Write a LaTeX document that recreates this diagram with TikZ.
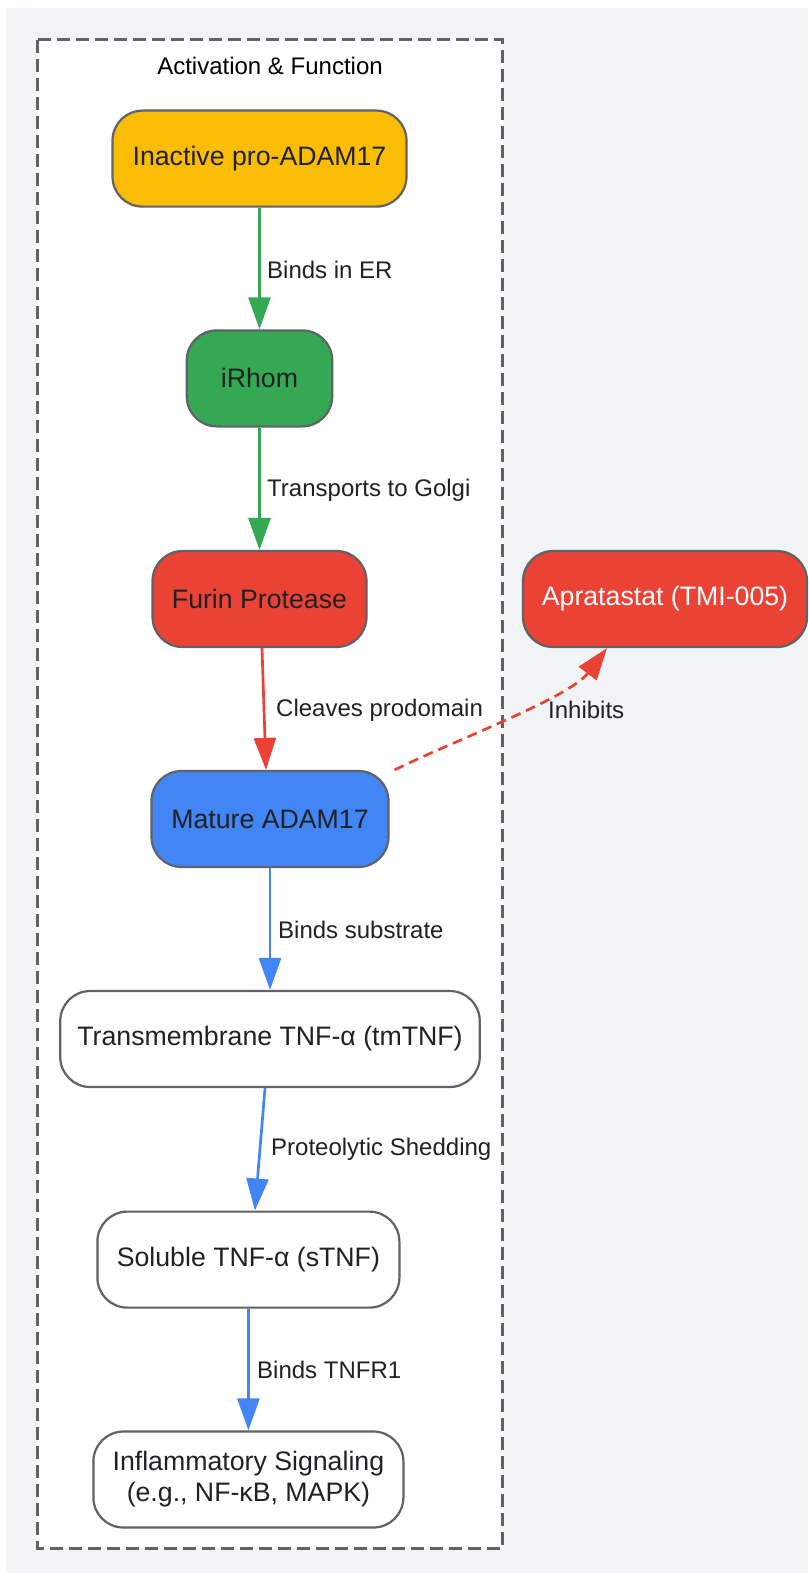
\documentclass[tikz,border=0pt]{standalone}
\usepackage{fontspec}
\setmainfont{Liberation Sans}
\usetikzlibrary{arrows.meta,calc}
\definecolor{bggray}{HTML}{F1F3F4}
\definecolor{bordergray}{HTML}{5F6368}
\definecolor{txt}{HTML}{202124}
\definecolor{gyellow}{HTML}{FBBC04}
\definecolor{ggreen}{HTML}{34A853}
\definecolor{gred}{HTML}{EA4335}
\definecolor{gblue}{HTML}{4285F4}
\tikzset{
  box/.style={draw=bordergray, line width=2.2pt, rounded corners=30pt, minimum height=96pt,
    inner sep=0pt, align=center, text=txt, font=\fontsize{26.7}{31}\selectfont},
  elabel/.style={anchor=west, inner sep=0pt, text=txt, font=\fontsize{24}{28}\selectfont},
  edge/.style={line width=2.7pt, -{Triangle[length=32pt,width=22pt]}},
}
\begin{document}
\begin{tikzpicture}[x=1pt,y=-1pt]
\useasboundingbox (0,0) rectangle (808,1573);
\fill[bggray] (6,8) rectangle (808,1573);
\draw[bordergray, fill=white, line width=3pt, dash pattern=on 13pt off 6pt] (37.5,40) rectangle (502.5,1548);
\node[inner sep=0pt, text=black, font=\fontsize{24}{28}\selectfont] (title) at (270,66) {Activation \& Function};

\node[box, fill=gyellow, minimum width=294pt] (pro) at (259.5,158.6) {Inactive pro-ADAM17};
\node[box, fill=ggreen, minimum width=145.5pt] (irhom) at (259.5,378.4) {iRhom};
\node[box, fill=gred, minimum width=214pt] (furin) at (259.5,599) {Furin Protease};
\node[box, fill=gred, minimum width=284pt, text=white] (aprat) at (665,599) {Apratastat (TMI-005)};
\node[box, fill=gblue, minimum width=237pt] (mature) at (270,819) {Mature ADAM17};
\node[box, fill=white, minimum width=419.5pt] (tm) at (270,1039) {Transmembrane TNF-α (tmTNF)};
\node[box, fill=white, minimum width=302pt] (sol) at (248.4,1259.6) {Soluble TNF-α (sTNF)};
\node[box, fill=white, minimum width=310pt] (infl) at (248.4,1479.5) {Inflammatory Signaling\\(e.g., NF-κB, MAPK)};

\draw[edge, ggreen] (pro.south) -- (irhom.north);
\draw[edge, ggreen] (irhom.south) -- (furin.north);
\draw[edge, gred] ($(furin.south)+(2.5,0)$) -- ($(mature.north)+(-4,0)$);
\draw[edge, gblue] (mature.south) -- (tm.north);
\draw[edge, gblue] ($(tm.south)+(-5,0)$) -- ($(sol.north)+(6.5,0)$);
\draw[edge, gblue] (sol.south) -- (infl.north);
\coordinate (dstart) at ($(mature.north east)+(5,0)$);
\coordinate (dend) at ($(aprat.south)+(-58,0)$);
\draw[gred, line width=2.7pt, dash pattern=on 10pt off 6pt, -{Triangle[length=32pt,width=22pt,sep=0pt]}]
  (dstart) .. controls (453,741) and (569,698) .. (dend);

\node[elabel] (l1) at (267,270) {Binds in ER};
\node[elabel] (l2) at (267,490) {Transports to Golgi};
\node[elabel] (l3) at (276,710) {Cleaves prodomain};
\node[elabel] (l4) at (548,710) {Inhibits};
\node[elabel] (l5) at (278,930) {Binds substrate};
\node[elabel] (l6) at (271,1149) {Proteolytic Shedding};
\node[elabel] (l7) at (257,1370) {Binds TNFR1};
\end{tikzpicture}
\end{document}
